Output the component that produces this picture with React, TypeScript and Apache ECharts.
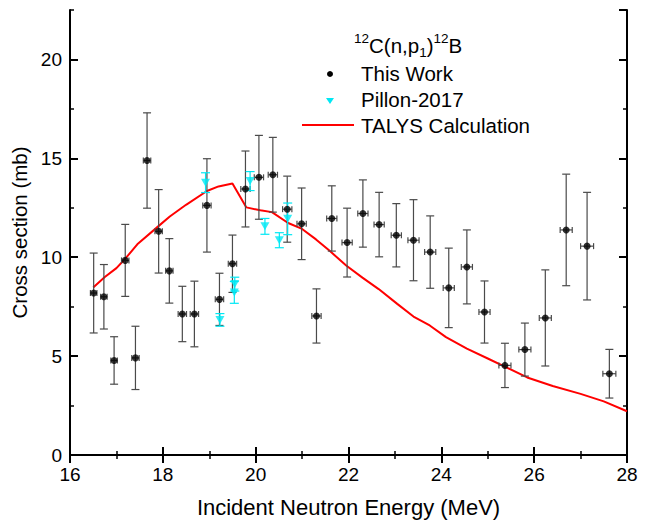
import React, { useEffect, useRef } from "react";
import * as echarts from "echarts";

// This Work: energy (MeV), cross section (mb), energy half-width, cross-section error
const twEnergy = [16.51, 16.73, 16.95, 17.19, 17.41, 17.66, 17.91, 18.14, 18.42, 18.68, 18.95, 19.22, 19.5, 19.78, 20.07, 20.37, 20.68, 20.99, 21.31, 21.64, 21.97, 22.31, 22.66, 23.03, 23.4, 23.76, 24.16, 24.55, 24.93, 25.37, 25.8, 26.24, 26.69, 27.14, 27.62];
const twSigma = [8.19, 8.0, 4.78, 9.84, 4.91, 14.89, 11.31, 9.31, 7.13, 7.13, 12.62, 7.87, 9.67, 13.45, 14.04, 14.17, 12.43, 11.69, 7.03, 11.96, 10.74, 12.21, 11.65, 11.11, 10.86, 10.26, 8.45, 9.51, 7.23, 4.53, 5.33, 6.93, 11.38, 10.56, 4.11];
const twEnergyErr = [0.07, 0.07, 0.07, 0.08, 0.08, 0.08, 0.08, 0.08, 0.09, 0.09, 0.09, 0.09, 0.09, 0.1, 0.1, 0.1, 0.1, 0.1, 0.1, 0.11, 0.11, 0.11, 0.11, 0.11, 0.12, 0.12, 0.12, 0.12, 0.12, 0.13, 0.13, 0.13, 0.13, 0.14, 0.14];
const twSigmaErr = [2.02, 1.63, 1.2, 1.82, 1.6, 2.41, 2.11, 1.63, 1.4, 1.66, 2.36, 1.32, 1.45, 1.92, 2.12, 1.89, 1.67, 1.81, 1.37, 1.65, 1.74, 1.7, 1.63, 1.6, 2.05, 1.83, 2.01, 1.87, 1.57, 1.12, 1.34, 2.43, 2.82, 2.72, 1.23];

// Pillon-2017
const pilEnergy = [18.92, 19.23, 19.55, 19.54, 19.88, 20.2, 20.51, 20.69];
const pilSigma = [13.77, 6.83, 8.64, 8.22, 13.85, 11.56, 10.86, 11.94];
const pilSigmaErr = [0.5, 0.32, 0.35, 0.55, 0.48, 0.4, 0.38, 0.8];

// TALYS calculation
const talysEnergy = [16.5, 16.75, 17.0, 17.2, 17.45, 17.9, 18.15, 18.5, 18.95, 19.2, 19.5, 19.8, 20.1, 20.35, 20.7, 21.0, 21.3, 21.6, 21.95, 22.3, 22.65, 23.05, 23.4, 23.75, 24.1, 24.55, 25.0, 25.4, 25.85, 26.4, 27.0, 27.5, 28.0];
const talysSigma = [8.47, 9.0, 9.45, 9.95, 10.65, 11.56, 12.06, 12.65, 13.35, 13.58, 13.73, 12.52, 12.37, 12.28, 11.73, 11.43, 10.9, 10.31, 9.58, 8.97, 8.39, 7.64, 7.0, 6.55, 5.96, 5.38, 4.88, 4.43, 3.92, 3.49, 3.09, 2.71, 2.21];

const FONT = "'Liberation Sans', Arial, sans-serif";
const CYAN = "#00E8F4";

export default function App() {
  const ref = useRef<HTMLDivElement>(null);
  useEffect(() => {
    document.body.style.margin = "0";
    if (!ref.current) return;
    const chart = echarts.init(ref.current, undefined, { renderer: "svg" });

    const twData = twEnergy.map((e, i) => [e, twSigma[i], twEnergyErr[i], twSigmaErr[i]]);
    const pilData = pilEnergy.map((e, i) => [e, pilSigma[i], 0, pilSigmaErr[i]]);
    const talysData = talysEnergy.map((e, i) => [e, talysSigma[i]]);

    const errRender = (color: string, capW: number, capH: number, lw: number) => (params: any, api: any) => {
      const x = api.value(0), y = api.value(1), dx = api.value(2), dy = api.value(3);
      const c = api.coord([x, y]);
      const t = api.coord([x, y + dy]);
      const b = api.coord([x, y - dy]);
      const style = { stroke: color, lineWidth: lw };
      const children: any[] = [
        { type: "line", shape: { x1: c[0], y1: t[1], x2: c[0], y2: b[1] }, style },
        { type: "line", shape: { x1: c[0] - capW, y1: t[1], x2: c[0] + capW, y2: t[1] }, style },
        { type: "line", shape: { x1: c[0] - capW, y1: b[1], x2: c[0] + capW, y2: b[1] }, style },
      ];
      if (dx > 0) {
        const l = api.coord([x - dx, y]);
        const r = api.coord([x + dx, y]);
        children.push(
          { type: "line", shape: { x1: l[0], y1: c[1], x2: r[0], y2: c[1] }, style },
          { type: "line", shape: { x1: l[0], y1: c[1] - capH, x2: l[0], y2: c[1] + capH }, style },
          { type: "line", shape: { x1: r[0], y1: c[1] - capH, x2: r[0], y2: c[1] + capH }, style }
        );
      }
      return { type: "group", children };
    };

    const axisLine = { show: true, lineStyle: { color: "#000", width: 2 } };
    const baseX = { type: "value", min: 16, max: 28, interval: 2, splitLine: { show: false } };
    const baseY = { type: "value", min: 0, max: 22.5, splitLine: { show: false } };

    const option: any = {
      animation: false,
      backgroundColor: "#fff",
      grid: { left: 70, top: 10, right: 21, bottom: 64, containLabel: false },
      xAxis: [
        {
          ...baseX,
          position: "bottom",
          axisLine,
          axisTick: { show: true, inside: true, length: 8, lineStyle: { color: "#000", width: 2 } },
          minorTick: { show: true, splitNumber: 2, length: 4, lineStyle: { color: "#000", width: 1.5 } },
          axisLabel: { show: true, margin: 10, color: "#000", fontSize: 19, fontFamily: FONT },
          name: "Incident Neutron Energy (MeV)",
          nameLocation: "middle",
          nameGap: 41,
          nameTextStyle: { fontSize: 22, color: "#000", fontFamily: FONT },
        },
        {
          ...baseX,
          position: "top",
          axisLine,
          axisTick: { show: true, inside: true, length: 8, lineStyle: { color: "#000", width: 2 } },
          minorTick: { show: true, splitNumber: 2, length: 4, lineStyle: { color: "#000", width: 1.5 } },
          axisLabel: { show: false },
        },
      ],
      yAxis: [
        {
          ...baseY,
          interval: 5,
          position: "left",
          axisLine,
          axisTick: { show: true, inside: true, length: 8, lineStyle: { color: "#000", width: 2 } },
          axisLabel: { show: true, margin: 8, color: "#000", fontSize: 19, fontFamily: FONT, showMaxLabel: false },
          name: "Cross section (mb)",
          nameLocation: "middle",
          nameGap: 37,
          nameTextStyle: { fontSize: 20.5, color: "#000", fontFamily: FONT },
        },
        {
          ...baseY,
          interval: 5,
          position: "right",
          axisLine,
          axisTick: { show: true, inside: true, length: 8, lineStyle: { color: "#000", width: 2 } },
          axisLabel: { show: false },
        },
        {
          ...baseY,
          interval: 2.5,
          position: "left",
          axisLine: { show: false },
          axisTick: { show: true, inside: true, length: 4, lineStyle: { color: "#000", width: 1.5 } },
          axisLabel: { show: false },
        },
        {
          ...baseY,
          interval: 2.5,
          position: "right",
          axisLine: { show: false },
          axisTick: { show: true, inside: true, length: 4, lineStyle: { color: "#000", width: 1.5 } },
          axisLabel: { show: false },
        },
      ],
      series: [
        {
          name: "TALYS Calculation",
          type: "line",
          data: talysData,
          showSymbol: false,
          symbol: "none",
          lineStyle: { color: "#FF0000", width: 2 },
          z: 2,
        },
        {
          name: "This Work err",
          type: "custom",
          data: twData,
          renderItem: errRender("#4a4a4a", 4, 3, 1.2),
          encode: { x: 0, y: 1 },
          z: 3,
        },
        {
          name: "This Work",
          type: "scatter",
          data: twData.map((d) => [d[0], d[1]]),
          symbol: "circle",
          symbolSize: 7,
          itemStyle: { color: "#000" },
          z: 5,
        },
        {
          name: "Pillon err",
          type: "custom",
          data: pilData,
          renderItem: errRender(CYAN, 4.5, 0, 1.2),
          encode: { x: 0, y: 1 },
          z: 3,
        },
        {
          name: "Pillon-2017",
          type: "scatter",
          data: pilData.map((d) => [d[0], d[1]]),
          symbol: "triangle",
          symbolRotate: 180,
          symbolSize: [9, 8],
          itemStyle: { color: CYAN },
          z: 4,
        },
      ],
      graphic: [
        {
          type: "text",
          x: 354,
          y: 45,
          style: {
            text: "{sup|12}{n|C(n,p}{sub|1}{n|)}{sup|12}{n|B}",
            verticalAlign: "middle",
            rich: {
              n: { fontSize: 20.5, fontFamily: FONT, fill: "#000", lineHeight: 28, verticalAlign: "middle" },
              sup: { fontSize: 13.5, fontFamily: FONT, fill: "#000", lineHeight: 28, verticalAlign: "top" },
              sub: { fontSize: 13.5, fontFamily: FONT, fill: "#000", lineHeight: 28, verticalAlign: "bottom" },
            },
          },
        },
        { type: "circle", shape: { cx: 330, cy: 74, r: 3 }, style: { fill: "#000" } },
        { type: "polygon", shape: { points: [[326, 98], [334, 98], [330, 104]] }, style: { fill: CYAN } },
        { type: "line", shape: { x1: 302, y1: 125, x2: 354, y2: 125 }, style: { stroke: "#FF0000", lineWidth: 2 } },
        { type: "text", x: 361, y: 73, style: { text: "This Work", fontSize: 20.5, fontFamily: FONT, fill: "#000", verticalAlign: "middle" } },
        { type: "text", x: 361, y: 99, style: { text: "Pillon-2017", fontSize: 20.5, fontFamily: FONT, fill: "#000", verticalAlign: "middle" } },
        { type: "text", x: 361, y: 125, style: { text: "TALYS Calculation", fontSize: 20.5, fontFamily: FONT, fill: "#000", verticalAlign: "middle" } },
      ],
    };
    chart.setOption(option);
    return () => chart.dispose();
  }, []);
  return <div ref={ref} style={{ width: 648, height: 523 }} />;
}
